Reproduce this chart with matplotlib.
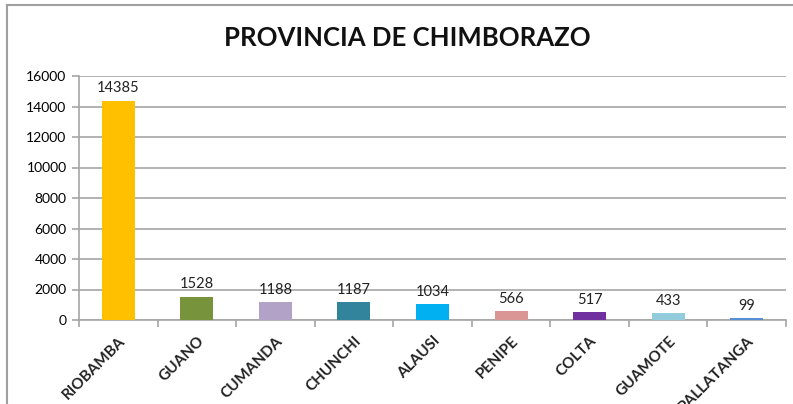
import numpy as np
import matplotlib
matplotlib.use("Agg")
import matplotlib.pyplot as plt
from matplotlib.lines import Line2D

plt.rcParams['font.family'] = ['Lato', 'DejaVu Sans']

# datos
cantones = ["RIOBAMBA", "GUANO", "CUMANDA", "CHUNCHI", "ALAUSI",
            "PENIPE", "COLTA", "GUAMOTE", "PALLATANGA"]
valores = [14385, 1528, 1188, 1187, 1034, 566, 517, 433, 99]
colores = ["#FFC000", "#77933C", "#B3A2C7", "#31849B", "#00B0F0",
           "#D99694", "#7030A0", "#93CDDD", "#558ED5"]
yticks = [0, 2000, 4000, 6000, 8000, 10000, 12000, 14000, 16000]

fig = plt.figure(figsize=(7.93, 4.04), dpi=100)
ax = fig.add_axes([79/793, 1 - 320/404, (786 - 79)/793, (320 - 76)/404])

x = np.arange(len(cantones))
ax.bar(x, valores, width=0.42, color=colores, zorder=3)
for xi, v in zip(x, valores):
    ax.text(xi, v + 350, str(v), ha="center", va="bottom", fontsize=10.5, color="#222222")

ax.set_xlim(-0.5, len(cantones) - 0.5)
ax.set_ylim(0, 16000)
ax.set_yticks(yticks)
ax.set_yticklabels([str(t) for t in yticks], fontsize=10)
ax.yaxis.grid(True, color="#a6a6a6", linewidth=1.2, zorder=0)

ax.set_xticks(x)
ax.set_xticklabels(cantones, rotation=45, ha="right", rotation_mode="anchor",
                   fontsize=11, fontweight="bold", color="#222222")
ax.tick_params(axis="x", which="major", length=0, pad=10)
ax.set_xticks(np.arange(-0.5, len(cantones)), minor=True)
ax.tick_params(axis="x", which="minor", length=5, color="#a6a6a6", width=1.2)
ax.tick_params(axis="y", length=5, color="#a6a6a6", width=1.2, pad=4)

for s in ["top", "right"]:
    ax.spines[s].set_visible(False)
for s in ["left", "bottom"]:
    ax.spines[s].set_color("#a6a6a6")
    ax.spines[s].set_linewidth(1.2)

fig.text(407/793, 1 - 38/404, "PROVINCIA DE CHIMBORAZO", ha="center", va="center",
         fontsize=18.5, fontweight="bold", color="#111111")

# marco del gráfico
fig.add_artist(Line2D([7/793, 1], [1 - 5/404] * 2, color="#a0a0a0", linewidth=1.5))
fig.add_artist(Line2D([7/793] * 2, [0, 1 - 5/404], color="#a0a0a0", linewidth=1.5))

fig.savefig("out.png", dpi=100)
